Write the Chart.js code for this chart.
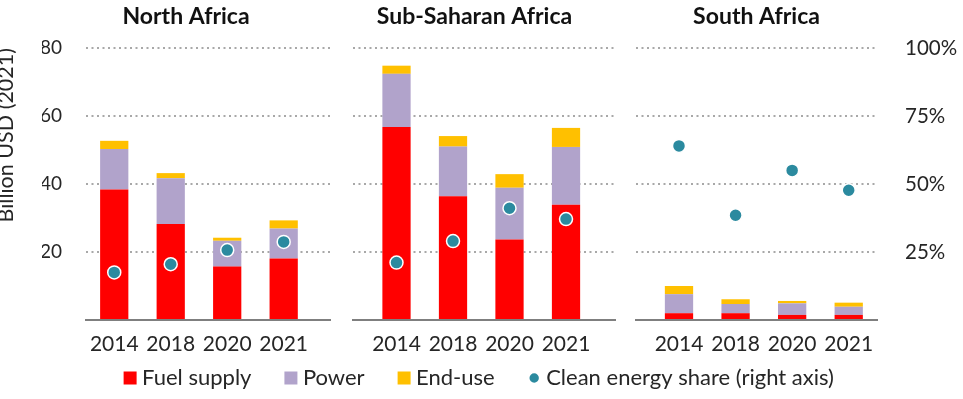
<!DOCTYPE html>
<html>
<head>
<meta charset="utf-8">
<title>Clean energy investment in Africa</title>
<script src="https://cdn.jsdelivr.net/npm/chart.js@4.4.1/dist/chart.umd.min.js"></script>
<style>
    body { margin: 0; background: #fff; }
    #wrap { position: relative; width: 963px; height: 399px; }
    #wrap canvas { position: absolute; left: 0; top: 0; }
</style>
</head>
<body>
<div id="wrap">
    <canvas id="north" width="963" height="399"></canvas>
    <canvas id="sub" width="963" height="399"></canvas>
    <canvas id="south" width="963" height="399"></canvas>
    <canvas id="legend" width="963" height="399"></canvas>
</div>
<script>
// categories and series (billion USD 2021, share in %)
var years = ['2014', '2018', '2020', '2021'];
var seriesNames = ['Fuel supply', 'Power', 'End-use', 'Clean energy share (right axis)'];
var seriesColors = ['#ff0000', '#b1a3cb', '#ffc000', '#2b8a9f'];

var northFuel = [38.4, 28.2, 15.7, 18.1];
var northPower = [11.9, 13.5, 7.6, 8.8];
var northEndUse = [2.4, 1.5, 0.9, 2.4];
var northShare = [17.5, 20.5, 25.7, 28.7];

var subFuel = [56.8, 36.4, 23.7, 33.9];
var subPower = [15.6, 14.6, 15.2, 17.0];
var subEndUse = [2.4, 3.1, 4.0, 5.6];
var subShare = [21.1, 29.0, 41.1, 37.1];

var southFuel = [2.0, 2.0, 1.5, 1.5];
var southPower = [5.6, 2.7, 3.4, 2.4];
var southEndUse = [2.4, 1.4, 0.7, 1.2];
var southShare = [64.0, 38.5, 55.0, 47.7];

var leftTicks = [20, 40, 60, 80];
var rightTicks = [25, 50, 75, 100];

Chart.defaults.font.family = "Lato, 'Open Sans', sans-serif";
Chart.defaults.color = '#262626';
Chart.defaults.animation = false;

// bars sit on a linear x axis so each panel can be placed exactly
function toPoints(values) {
    return values.map(function (v, i) {
        return { x: i, y: v };
    });
}

function buildDatasets(fuel, power, endUse, share) {
    var bars = [fuel, power, endUse].map(function (values, k) {
        return {
            label: seriesNames[k],
            data: toPoints(values),
            backgroundColor: seriesColors[k],
            borderWidth: 0,
            barPercentage: 1,
            categoryPercentage: 0.5,
            order: 1
        };
    });
    bars.push({
        type: 'line',
        label: seriesNames[3],
        data: toPoints(share),
        yAxisID: 'y1',
        showLine: false,
        pointRadius: 6.5,
        pointHoverRadius: 6.5,
        pointBackgroundColor: seriesColors[3],
        pointBorderColor: '#ffffff',
        pointBorderWidth: 1.5,
        order: 0
    });
    return bars;
}

// p: title, padding, x range, y axis widths
function makePanel(id, datasets, p) {
    var ctx = document.getElementById(id).getContext('2d');
    var config = {
        type: 'bar',
        data: { datasets: datasets },
        options: {
            responsive: false,
            events: [],
            layout: { padding: { left: p.padLeft, right: p.padRight, top: 0, bottom: 45 } },
            scales: {
                x: {
                    type: 'linear',
                    stacked: true,
                    offset: false,
                    min: p.xMin,
                    max: p.xMax,
                    grid: { display: false, offset: false },
                    border: { color: '#7f7f7f', width: 2 },
                    afterBuildTicks: function (scale) {
                        scale.ticks = years.map(function (y, i) { return { value: i }; });
                    },
                    ticks: {
                        autoSkip: false,
                        maxRotation: 0,
                        padding: 4,
                        font: { size: 21 },
                        callback: function (v) { return years[v]; }
                    },
                    afterFit: function (scale) { scale.height = 34; }
                },
                y: {
                    stacked: true,
                    min: 0,
                    max: 80,
                    afterBuildTicks: function (scale) {
                        scale.ticks = [0].concat(leftTicks).map(function (v) { return { value: v }; });
                    },
                    ticks: {
                        display: p.leftLabels,
                        padding: 24,
                        font: { size: 19 },
                        callback: function (v) { return v === 0 ? '' : v; }
                    },
                    grid: {
                        drawTicks: false,
                        lineWidth: 2,
                        color: function (c) {
                            return c.tick && c.tick.value === 0 ? 'rgba(0,0,0,0)' : '#a8a8a8';
                        }
                    },
                    border: { display: false, dash: [2, 3.5] },
                    title: {
                        display: p.leftLabels,
                        text: 'Billion USD (2021)',
                        align: 'end',
                        font: { size: 21.5 },
                        padding: { top: -49, bottom: 0 }
                    },
                    afterFit: function (scale) { scale.width = p.leftWidth; }
                },
                y1: {
                    display: p.rightLabels,
                    position: 'right',
                    min: 0,
                    max: 100,
                    afterBuildTicks: function (scale) {
                        scale.ticks = [0].concat(rightTicks).map(function (v) { return { value: v }; });
                    },
                    ticks: {
                        padding: 28,
                        font: { size: 20.5 },
                        callback: function (v) { return v === 0 ? '' : v + '%'; }
                    },
                    grid: { display: false, drawTicks: false },
                    border: { display: false },
                    afterFit: function (scale) { scale.width = p.rightLabels ? 86 : 0; }
                }
            },
            plugins: {
                legend: { display: false },
                tooltip: { enabled: false },
                title: {
                    display: true,
                    text: p.title,
                    fullSize: p.fullSize,
                    color: '#111111',
                    font: { size: 23, weight: 'bold' },
                    padding: { top: 3, bottom: 17.4 }
                }
            }
        }
    };
    return new Chart(ctx, config);
}

var northChart = makePanel('north', buildDatasets(northFuel, northPower, northEndUse, northShare), {
    title: 'North Africa', fullSize: true, padLeft: 42, padRight: 633,
    leftWidth: 44, leftLabels: true, rightLabels: false, xMin: -0.5, xMax: 3.82
});

var subChart = makePanel('sub', buildDatasets(subFuel, subPower, subEndUse, subShare), {
    title: 'Sub-Saharan Africa', fullSize: true, padLeft: 334, padRight: 348,
    leftWidth: 19, leftLabels: false, rightLabels: false, xMin: -0.77, xMax: 3.867
});

var southChart = makePanel('south', buildDatasets(southFuel, southPower, southEndUse, southShare), {
    title: 'South Africa', fullSize: false, padLeft: 636, padRight: 0,
    leftWidth: 0, leftLabels: false, rightLabels: true, xMin: -0.76, xMax: 3.5
});

// shared legend across the bottom of the figure
var legendSets = [0, 1, 2].map(function (k) {
    return { label: seriesNames[k], data: [], backgroundColor: seriesColors[k], borderWidth: 0, pointStyle: 'rect' };
});
legendSets.push({
    type: 'line',
    label: seriesNames[3],
    data: [],
    pointStyle: 'circle',
    backgroundColor: seriesColors[3],
    pointBackgroundColor: seriesColors[3],
    borderColor: '#ffffff',
    pointBorderColor: '#ffffff',
    borderWidth: 9,
    pointBorderWidth: 9
});

var legendChart = new Chart(document.getElementById('legend').getContext('2d'), {
    type: 'bar',
    data: { labels: [], datasets: legendSets },
    options: {
        responsive: false,
        events: [],
        layout: { padding: { bottom: 0 } },
        scales: { x: { display: false }, y: { display: false } },
        plugins: {
            tooltip: { enabled: false },
            legend: {
                position: 'bottom',
                labels: {
                    usePointStyle: true,
                    boxWidth: 2,
                    boxHeight: 13,
                    padding: 38.5,
                    color: '#262626',
                    font: { size: 22 }
                }
            }
        }
    }
});
</script>
</body>
</html>
